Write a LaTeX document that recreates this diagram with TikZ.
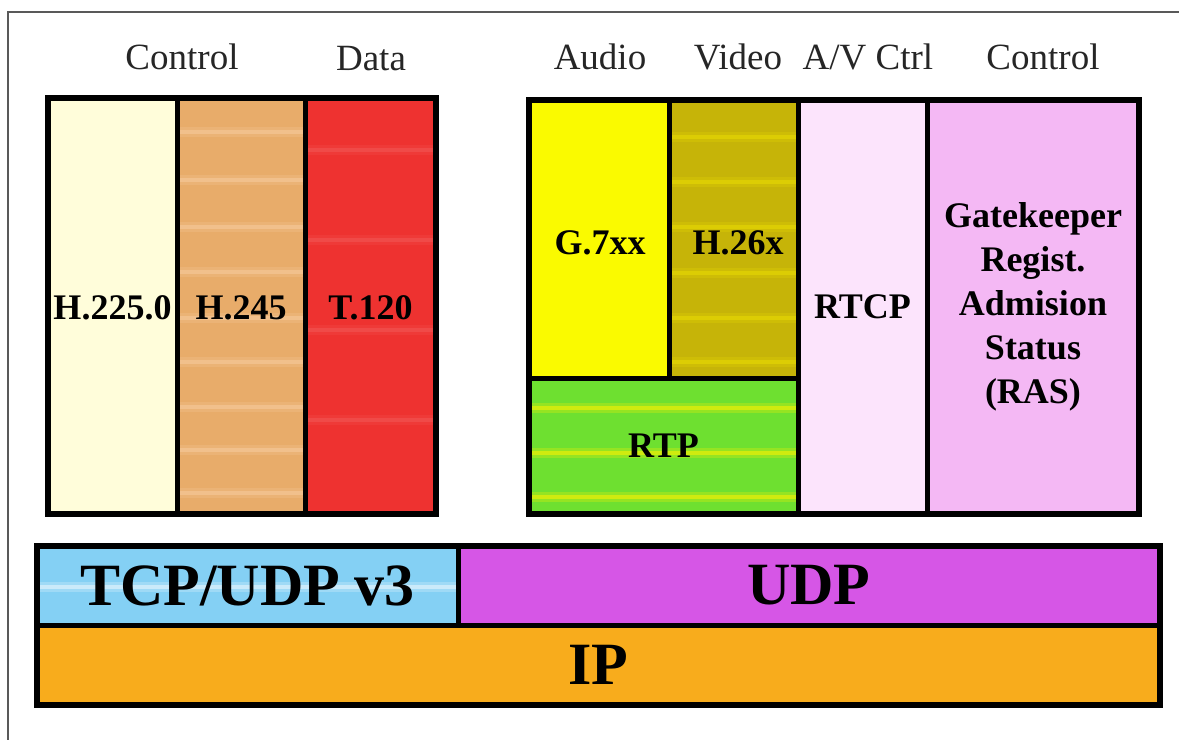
\documentclass[tikz,border=0pt]{standalone}
\usepackage{fontspec}
\setmainfont{Liberation Serif}
\begin{document}
\begin{tikzpicture}[x=1pt,y=-1pt,
  cell/.style={draw=none,inner sep=0pt,outer sep=0pt},
  lbl/.style={font=\bfseries\fontsize{36}{44}\selectfont,align=center,text=black},
  big/.style={font=\bfseries\fontsize{60}{64}\selectfont,text=black},
  head/.style={font=\fontsize{37}{40}\selectfont,text=black!85},
  frame/.style={line width=6pt,draw=black,line join=miter},
  divider/.style={line width=5pt,draw=black}
]
\definecolor{cream}{HTML}{FFFDDA}
\definecolor{tan}{HTML}{E8AC6A}
\definecolor{tred}{HTML}{EE3230}
\definecolor{gyel}{HTML}{FAFA00}
\definecolor{olive}{HTML}{C6B408}
\definecolor{rtpgreen}{HTML}{6EE030}
\definecolor{lpink}{HTML}{FCE4FC}
\definecolor{rpink}{HTML}{F4B8F4}
\definecolor{tcpblue}{HTML}{84D0F4}
\definecolor{udpmag}{HTML}{D656E6}
\definecolor{iporange}{HTML}{F8AC1C}

% soft horizontal band: a wide faint stripe with a narrower brighter core
\newcommand{\softband}[5]{%
  \fill[#4,opacity=#5*0.5] (#1,#3-5) rectangle (#2,#3+5);
  \fill[#4,opacity=#5] (#1,#3-2) rectangle (#2,#3+2);}

\useasboundingbox (0,0) rectangle (1179,740);
\fill[white] (0,0) rectangle (1179,740);

% outer frame (top and left edges)
\draw[gray!70!black,line width=1.2pt] (1179,12) -- (8,12) -- (8,740);

% column headings
\node[head] (hctl1) at (182,57) {Control};
\node[head] (hdata) at (371,59) {Data};
\node[head] (haud)  at (600,57) {Audio};
\node[head] (hvid)  at (738,57) {Video};
\node[head] (havc)  at (868,57) {A/V Ctrl};
\node[head] (hctl2) at (1043,57) {Control};

% ---- left stack: call signalling and data
\node[cell,fill=cream,minimum width=129,minimum height=416] (h225) at (112.5,306) {};
\node[cell,fill=tan,minimum width=128,minimum height=416] (h245) at (241,306) {};
\node[cell,fill=tred,minimum width=131,minimum height=416] (t120) at (370.5,306) {};
\foreach \y in {132,180,227,272,318,362,407,450,493}
  {\softband{177}{305}{\y}{orange!25!white}{0.3}}
\foreach \y in {150,240,330,420}
  {\softband{305}{436}{\y}{pink}{0.12}}
\node[lbl] at (h225.center) [yshift=-2pt] {H.225.0};
\node[lbl] at (h245.center) [yshift=-2pt] {H.245};
\node[lbl] at (t120.center) [yshift=-2pt] {T.120};
\draw[frame] (48,98) rectangle (436,514);
\draw[divider] (177,98) -- (177,514);
\draw[divider] (305,98) -- (305,514);

% ---- right stack: media and RAS
\node[cell,fill=gyel,minimum width=140,minimum height=278] (g7) at (599,239) {};
\node[cell,fill=olive,minimum width=129,minimum height=278] (h26) at (733.5,239) {};
\node[cell,fill=rtpgreen,minimum width=269,minimum height=136] (rtp) at (663.5,446) {};
\node[cell,fill=lpink,minimum width=129,minimum height=414] (rtcp) at (862.5,307) {};
\node[cell,fill=rpink,minimum width=212,minimum height=414] (ras) at (1033,307) {};
\foreach \y in {137,182,227,273,318,362}
  {\softband{669}{798}{\y}{yellow}{0.3}}
\foreach \y in {408,453,497}
  {\softband{529}{798}{\y}{yellow}{0.55}}
\node[lbl] at (600,243) {G.7xx};
\node[lbl] at (738,243) {H.26x};
\node[lbl] at (rtp.center) {RTP};
\node[lbl] at (rtcp.center) {RTCP};
\node[lbl] at (ras.center) {Gatekeeper\\Regist.\\Admision\\Status\\(RAS)};
\draw[frame] (529,100) rectangle (1139,514);
\draw[divider] (669,100) -- (669,378);
\draw[divider] (529,378) -- (798,378);
\draw[divider] (798,100) -- (798,514);
\draw[divider] (927,100) -- (927,514);

% ---- transport and network layers
\node[cell,fill=tcpblue,minimum width=421,minimum height=79] (tcp) at (247.5,585.5) {};
\node[cell,fill=udpmag,minimum width=702,minimum height=79] (udp) at (809,585.5) {};
\node[cell,fill=iporange,minimum width=1123,minimum height=80] (ip) at (598.5,665) {};
\softband{37}{458}{587}{white}{0.45}
\node[big] at (tcp.center) {TCP/UDP v3};
\node[big] at (udp.center) {UDP};
\node[big] at (ip.center) {IP};
\draw[frame] (37,546) rectangle (1160,705);
\draw[divider] (458,546) -- (458,625);
\draw[divider] (37,625) -- (1160,625);
\end{tikzpicture}
\end{document}
